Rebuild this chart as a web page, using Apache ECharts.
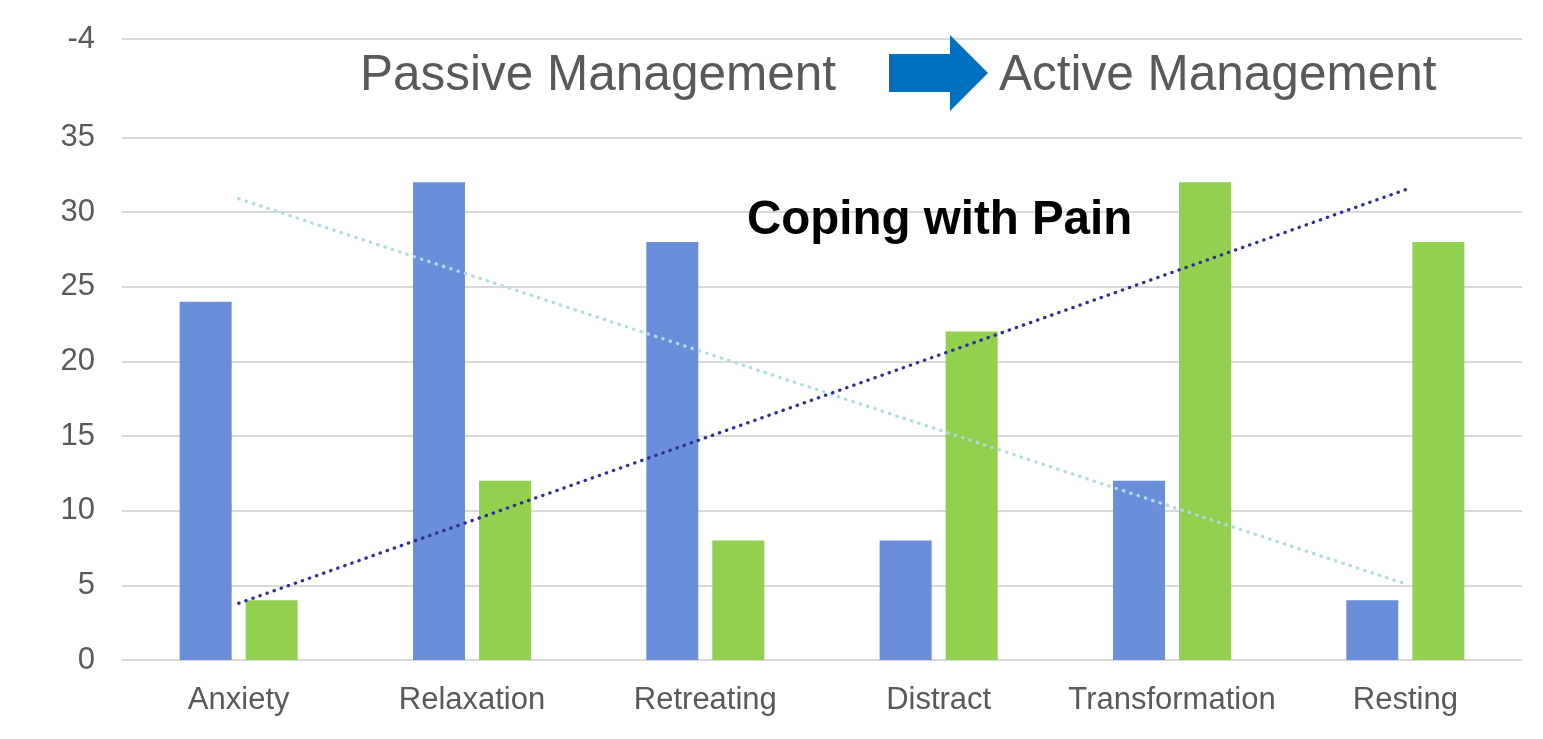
<!DOCTYPE html>
<html>
<head>
<meta charset="utf-8">
<script src="https://cdn.jsdelivr.net/npm/echarts@6/dist/echarts.min.js"></script>
<style>
  html, body { margin: 0; padding: 0; background: #ffffff; }
  #chart { width: 1543px; height: 739px; }
</style>
</head>
<body>
<div id="chart"></div>
<script>
// ---- Data ----
const categories = ['Anxiety', 'Relaxation', 'Retreating', 'Distract', 'Transformation', 'Resting'];
const passiveValues = [24, 32, 28, 8, 12, 4];
const activeValues = [4, 12, 8, 22, 32, 28];
// dotted trend lines: endpoints read at first and last category
const passiveTrend = [30.9, null, null, null, null, 5.1];
const activeTrend = [3.8, null, null, null, null, 31.5];
// y-axis ticks and their labels (top line is labelled "-4" in the reference)
const yTickValues = [0, 5, 10, 15, 20, 25, 30, 35, 41.6];
const yTickLabels = ['0', '5', '10', '15', '20', '25', '30', '35', '-4'];
const headerLeft = 'Passive Management';
const headerRight = 'Active Management';
const innerTitle = 'Coping with Pain';

const FONT = '"Liberation Sans", Arial, Helvetica, sans-serif';
const chart = echarts.init(document.getElementById('chart'), null, { renderer: 'canvas' });

const option = {
  backgroundColor: '#ffffff',
  animation: false,
  grid: { left: 122, right: 21, top: 39, bottom: 79, containLabel: false },
  xAxis: {
    type: 'category',
    data: categories,
    boundaryGap: true,
    axisLine: { show: false },
    axisTick: { show: false },
    axisLabel: { interval: 0, color: '#595959', fontSize: 31, fontFamily: FONT, margin: 25 }
  },
  yAxis: {
    type: 'value',
    min: 0,
    max: yTickValues[yTickValues.length - 1],
    axisLine: { show: false },
    axisTick: { show: false, customValues: yTickValues },
    axisLabel: {
      customValues: yTickValues,
      color: '#595959', fontSize: 31, fontFamily: FONT, margin: 27,
      formatter: function (v) {
        const i = yTickValues.indexOf(v);
        return i >= 0 ? yTickLabels[i] : '';
      }
    },
    splitLine: { show: true, lineStyle: { color: '#d9d9d9', width: 2 } }
  },
  series: [
    {
      name: 'Passive', type: 'bar', data: passiveValues,
      barWidth: 52, barGap: '27%',
      itemStyle: { color: '#6a8ed9' }, z: 2
    },
    {
      name: 'Active', type: 'bar', data: activeValues,
      barWidth: 52, barGap: '27%',
      itemStyle: { color: '#92d050' }, z: 2
    },
    {
      name: 'Passive trend', type: 'line', data: passiveTrend, connectNulls: true,
      symbol: 'none', silent: true, z: 5,
      lineStyle: { color: '#b0dbe2', width: 3.3, type: [0.4, 7.3], cap: 'round' }
    },
    {
      name: 'Active trend', type: 'line', data: activeTrend, connectNulls: true,
      symbol: 'none', silent: true, z: 6,
      lineStyle: { color: '#2e2e98', width: 3.3, type: [0.4, 7.1], cap: 'round' }
    }
  ],
  graphic: [
    {
      type: 'text', left: 360, top: 51, z: 10,
      style: { text: headerLeft, fill: '#595959', font: '49.5px ' + FONT }
    },
    {
      type: 'text', left: 999, top: 51, z: 10,
      style: { text: headerRight, fill: '#595959', font: '49.5px ' + FONT }
    },
    {
      type: 'polygon', z: 10,
      shape: { points: [[889, 54], [950, 54], [950, 35], [988, 73], [950, 111], [950, 92], [889, 92]] },
      style: { fill: '#0070c0' }
    },
    {
      type: 'text', left: 747, top: 197, z: 10,
      style: { text: innerTitle, fill: '#000000', font: 'bold 47.5px ' + FONT }
    }
  ]
};
chart.setOption(option);
</script>
</body>
</html>
